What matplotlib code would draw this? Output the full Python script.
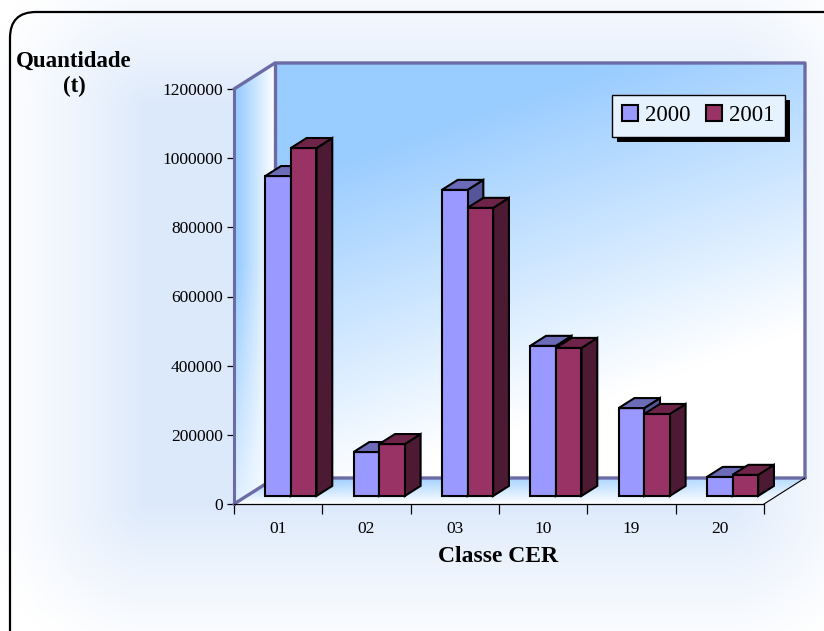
import numpy as np
import matplotlib
matplotlib.use("Agg")
import matplotlib.pyplot as plt
from matplotlib.patches import Polygon, Rectangle, FancyBboxPatch
from matplotlib.colors import to_rgb

plt.rcParams['font.family'] = ['Liberation Serif', 'DejaVu Serif']

classes = ["01", "02", "03", "10", "19", "20"]
q2000 = [925000, 127000, 885000, 434000, 254000, 55000]
q2001 = [1006000, 150000, 833000, 428000, 237000, 61000]
years = ["2000", "2001"]

front_cols = ["#9999ff", "#993366"]
top_cols = ["#6b6bb8", "#6e2448"]
side_cols = ["#55559a", "#4d1a33"]
wall_edge = "#6b6ba6"

W, H = 824, 631
fig = plt.figure(figsize=(W / 100, H / 100), dpi=100)

# soft blue glow behind everything
bg = fig.add_axes([0, 0, 1, 1], zorder=-5)
yy, xx = np.mgrid[0:H, 0:W]
dx = np.maximum(np.maximum(150 - xx, xx - 720), 0)
dy = np.maximum(np.maximum(110 - yy, yy - 500), 0)
d = np.hypot(dx, dy)
s = np.clip(1 - d / 170, 0, 1) ** 1.3
glow = np.array(to_rgb("#dce9fb"))
img = np.ones((H, W, 3)) * (1 - s[..., None]) + glow * s[..., None]
bg.imshow(img, extent=[0, W, H, 0], aspect='auto')
bg.set_xlim(0, W)
bg.set_ylim(H, 0)
bg.axis('off')
frame = FancyBboxPatch((10, 12), W + 40, H + 40, boxstyle="round,pad=0,rounding_size=26",
                       fc="none", ec="black", lw=1.6)
bg.add_patch(frame)

# pixel geometry of the 3D box
x_front0, x_front1 = 234, 764
y_zero, y_top = 504, 89
ddx, ddy = 41, 26
cat_px = (x_front1 - x_front0) / len(classes)
ymax = 1200000
DX = ddx / cat_px
DY = ddy / (y_zero - y_top) * ymax

ax = fig.add_axes([x_front0 / W, (H - y_zero) / H,
                   (x_front1 + ddx - x_front0) / W, (y_zero - y_top + ddy) / H])
ax.set_xlim(0, len(classes) + DX)
ax.set_ylim(0, ymax + DY)
ax.patch.set_alpha(0)
n = len(classes)


def grad_image(ax, extent, func, poly, z):
    ny, nx = 120, 160
    v, u = np.mgrid[0:1:ny * 1j, 0:1:nx * 1j]
    st = np.clip(func(u, v), 0, 1)
    blue = np.array(to_rgb("#99ccff"))
    im = np.ones((ny, nx, 3)) * (1 - st[..., None]) + blue * st[..., None]
    art = ax.imshow(im, extent=extent, origin='upper', aspect='auto', zorder=z,
                    interpolation='bilinear')
    p = Polygon(poly, closed=True, fc='none', ec='none', transform=ax.transData)
    ax.add_patch(p)
    art.set_clip_path(p)


# back wall
back = [(DX, DY), (n + DX, DY), (n + DX, ymax + DY), (DX, ymax + DY)]
grad_image(ax, [DX, n + DX, DY, ymax + DY],
           lambda u, v: 1.35 - 0.55 * u - 1.25 * v, back, 1)
# side wall
side = [(0, 0), (DX, DY), (DX, ymax + DY), (0, ymax)]
grad_image(ax, [0, DX, 0, ymax + DY],
           lambda u, v: (1.1 - 1.1 * u) * np.clip(1.6 - 1.3 * v, 0, 1), side, 1)
# floor
floor = [(0, 0), (n, 0), (n + DX, DY), (DX, DY)]
grad_image(ax, [0, n + DX, 0, DY],
           lambda u, v: (1 - v) * 1.0 * (1.0 - 0.3 * u), floor, 1)

ekw = dict(color=wall_edge, lw=2.4, zorder=2, solid_capstyle='round', clip_on=False)
ax.plot([0, DX, n + DX, n + DX], [ymax, ymax + DY, ymax + DY, DY], **ekw)
ax.plot([DX, DX], [DY, ymax + DY], **ekw)
ax.plot([0, DX, n + DX], [0, DY, DY], **ekw)
ax.plot([n, n + DX], [0, DY], color='black', lw=0.8, zorder=2)

# bars
f0 = 0.31
dep = 0.385
bw = 0.29
base = f0 * DY
series = [q2000, q2001]
for i in range(n):
    for k in range(2):
        val = series[k][i]
        x0 = i + 0.5 - bw + k * bw + f0 * DX
        z = 10 + i * 4 + k * 2
        ax.bar(x0, val, bw, bottom=base, align='edge', color=front_cols[k],
               edgecolor='black', lw=1.5, zorder=z,
               label=years[k] if i == 0 else None)
        top = [(x0, base + val), (x0 + bw, base + val),
               (x0 + bw + dep * DX, base + val + dep * DY), (x0 + dep * DX, base + val + dep * DY)]
        sd = [(x0 + bw, base), (x0 + bw + dep * DX, base + dep * DY),
              (x0 + bw + dep * DX, base + val + dep * DY), (x0 + bw, base + val)]
        ax.add_patch(Polygon(top, closed=True, fc=top_cols[k], ec='black', lw=1.5,
                             zorder=z, joinstyle='miter'))
        ax.add_patch(Polygon(sd, closed=True, fc=side_cols[k], ec='black', lw=1.5,
                             zorder=z - 1, joinstyle='miter'))

# axes
for sp in ['top', 'right']:
    ax.spines[sp].set_visible(False)
ax.spines['left'].set_bounds(0, ymax)
ax.spines['left'].set_color(wall_edge)
ax.spines['left'].set_linewidth(2.2)
ax.spines['left'].set_zorder(3)
ax.spines['bottom'].set_bounds(0, n)
ax.spines['bottom'].set_linewidth(0.9)
ax.spines['bottom'].set_zorder(3)
ax.set_yticks(np.arange(0, ymax + 1, 200000))
ax.set_yticklabels([str(v) for v in range(0, ymax + 1, 200000)], fontsize=12.5)
ax.tick_params(axis='y', length=5, width=0.9, color='black', pad=3)
ax.set_xticks(np.arange(0, n + 1))
ax.set_xticklabels([])
ax.set_xticks(np.arange(n) + 0.5, minor=True)
ax.set_xticklabels(classes, minor=True, fontsize=12.5)
ax.tick_params(axis='x', which='major', length=7, width=0.9, direction='out')
ax.tick_params(axis='x', which='minor', length=0, pad=12)

fig.text(498 / W, 1 - 557 / H, "Classe CER", ha='center', va='center',
         fontsize=17, fontweight='bold')
fig.text(74 / W, 1 - 74 / H, "Quantidade\n(t)", ha='center', va='center',
         fontsize=16.5, fontweight='bold', linespacing=1.3)

leg = ax.legend(loc='upper right', bbox_to_anchor=(785 / W, 1 - 95 / H),
                bbox_transform=fig.transFigure, ncol=2, frameon=True, fancybox=False,
                fontsize=16.5, handlelength=0.7, handleheight=0.7, handletextpad=0.3,
                columnspacing=0.7, borderpad=0.45, borderaxespad=0, framealpha=1)
leg.get_frame().set_edgecolor('black')
leg.get_frame().set_facecolor('#e6f2fe')
leg.get_frame().set_linewidth(1.0)
leg.set_zorder(60)

fig.canvas.draw()
bb = leg.get_window_extent()
ax.add_artist(Rectangle((bb.x0 + 5, bb.y0 - 5), bb.width, bb.height, transform=None,
                        fc='black', ec='none', zorder=59, clip_on=False))

fig.savefig("out.png", dpi=100)
